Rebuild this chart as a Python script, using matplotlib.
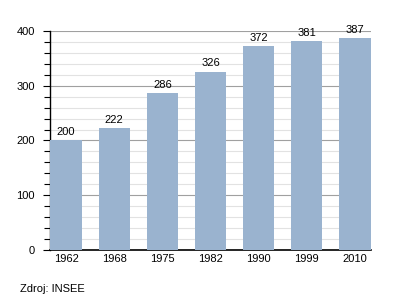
import matplotlib
matplotlib.use('Agg')
import matplotlib.pyplot as plt
from matplotlib.ticker import MultipleLocator

# data
years = ['1962', '1968', '1975', '1982', '1990', '1999', '2010']
population = [200, 222, 286, 326, 372, 381, 387]

plt.rcParams['font.family'] = ['Liberation Sans', 'DejaVu Sans']

fig = plt.figure(figsize=(4, 3), dpi=100)
ax = fig.add_axes([0.125, 0.1667, 0.8025, 0.73])

x = range(len(years))
ax.bar(x, population, width=0.65, color='#9ab3cf', zorder=3)

for xi, val in zip(x, population):
    ax.text(xi, val + 6, str(val), ha='center', va='bottom', fontsize=8, zorder=4)

ax.set_xlim(-0.335, len(years) - 0.665)
ax.set_ylim(0, 400)
ax.set_xticks(list(x))
ax.set_xticklabels(years, fontsize=8)
ax.yaxis.set_major_locator(MultipleLocator(100))
ax.yaxis.set_minor_locator(MultipleLocator(20))
ax.tick_params(axis='y', which='major', labelsize=8, length=5, width=0.8, pad=6)
ax.tick_params(axis='y', which='minor', length=4, width=0.8)
ax.tick_params(axis='x', length=0, pad=3)

ax.grid(axis='y', which='major', color='#a0a0a0', linewidth=0.8, zorder=1)
ax.grid(axis='y', which='minor', color='#e2e2e2', linewidth=0.8, zorder=0)

for side in ['top', 'right']:
    ax.spines[side].set_visible(False)
ax.spines['left'].set_linewidth(1)
ax.spines['bottom'].set_linewidth(1.2)

fig.text(0.05, 0.025, 'Zdroj: INSEE', fontsize=8)

plt.savefig('out.png', dpi=100)
